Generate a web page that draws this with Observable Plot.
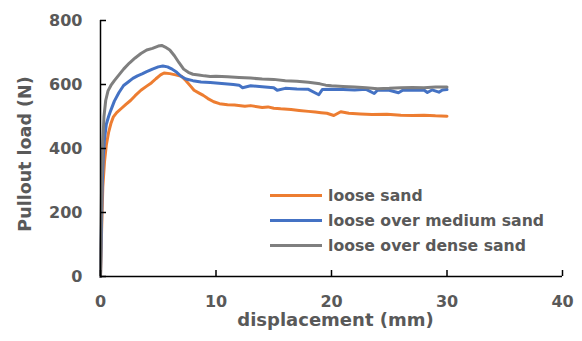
<!DOCTYPE html>
<html>
<head>
<meta charset="utf-8">
<script src="https://cdn.jsdelivr.net/npm/d3@7"></script>
<script src="https://cdn.jsdelivr.net/npm/@observablehq/plot@0.6"></script>
<style>
  html, body { margin: 0; padding: 0; background: #fff; }
  #wrap { position: relative; width: 582px; height: 341px; font-family: "DejaVu Sans", sans-serif; font-weight: bold; }
  #legend { position: absolute; left: 270px; top: 183px; }
  .row { display: flex; align-items: center; height: 25px; }
  .sw { width: 52px; height: 3px; margin-right: 6px; }
  .lab { font-size: 15.7px; color: #595959; white-space: nowrap; }
</style>
</head>
<body>
<div id="wrap"></div>
<script>
// ---- data ----
const seriesNames = ["loose sand", "loose over medium sand", "loose over dense sand"];
const seriesColors = ["#ED7D31", "#4472C4", "#7F7F7F"];

const looseX = [0,0.1,0.2,0.35,0.5,0.7,0.9,1.1,1.4,1.8,2.2,2.6,3.0,3.5,4.0,4.4,4.8,5.2,5.5,6.0,6.5,7.0,7.4,7.8,8.1,8.5,8.9,9.3,9.8,10.3,11,11.6,12.5,13,14,14.5,15,15.6,16.5,17.2,18,18.6,19.1,19.6,20.2,20.8,21.5,22.5,23.5,24.8,26,27,28,29,30];
const looseY = [0,150,280,360,410,450,478,498,512,525,538,550,565,582,595,605,618,630,636,634,630,626,612,595,582,574,566,556,546,540,537,536,532,534,528,530,526,524,522,519,516,514,512,510,503,515,510,508,506,507,504,503,504,502,501];

const mediumX = [0,0.08,0.15,0.25,0.35,0.5,0.7,0.9,1.2,1.6,2.0,2.4,2.8,3.2,3.6,4.0,4.5,5.0,5.4,5.8,6.2,6.6,7.0,7.4,8.0,8.7,9.5,10.5,11.5,12,12.3,13,14,15,15.3,16,17,18,18.9,19.2,20,21,22,23,23.7,24,25,25.8,26.2,27,28,28.3,28.7,29.3,29.6,30];
const mediumY = [0,150,290,380,430,475,500,520,548,575,597,608,619,627,633,640,648,655,658,655,648,638,625,617,612,608,606,603,600,598,590,596,593,590,582,588,586,585,568,584,585,584,583,585,572,583,582,574,583,582,583,575,583,576,583,584];

const denseX = [0,0.05,0.1,0.2,0.3,0.45,0.65,0.9,1.2,1.6,2.0,2.5,3.0,3.5,4.0,4.5,5.0,5.3,5.6,6.0,6.4,6.8,7.2,7.6,8.0,8.5,9.0,9.5,10,11,12,13,14,15,16,17,18,19,19.5,20,21,22,23,24,25,26,27,28,29,30];
const denseY = [0,150,300,420,500,550,580,597,612,630,648,667,683,697,708,713,720,722,717,708,690,668,648,638,632,630,627,625,626,624,622,620,617,616,612,610,607,602,598,596,594,592,590,587,588,590,591,590,592,592];

const xTicks = [0, 10, 20, 30, 40];
const yTicks = [0, 200, 400, 600, 800];
const xTitle = "displacement (mm)";
const yTitle = "Pullout load (N)";

// ---- build table ----
const rows = [];
[[looseX, looseY], [mediumX, mediumY], [denseX, denseY]].forEach(([xs, ys], i) => {
  xs.forEach((x, j) => rows.push({series: seriesNames[i], x, y: ys[j]}));
});

const textColor = "#595959";
const chart = Plot.plot({
  width: 582,
  height: 341,
  marginLeft: 100,
  marginRight: 20,
  marginTop: 20,
  marginBottom: 65,
  style: {fontFamily: "DejaVu Sans", fontWeight: "bold", fontSize: "16px", background: "#fff"},
  x: {domain: [0, 40]},
  y: {domain: [0, 800]},
  color: {domain: seriesNames, range: seriesColors},
  marks: [
    Plot.line(rows, {x: "x", y: "y", z: "series", stroke: "series", strokeWidth: 3, strokeLinejoin: "round", strokeLinecap: "round"}),
    Plot.ruleX([0], {stroke: "#000", strokeWidth: 1.5}),
    Plot.ruleY([0], {stroke: "#000", strokeWidth: 1.5}),
    // inward tick marks (shifted into the frame)
    Plot.axisX({ticks: xTicks, tickSize: 6, dy: -6, stroke: "#000", strokeWidth: 1.5, tickFormat: () => "", label: null}),
    Plot.axisY({ticks: yTicks, tickSize: 6, dx: 6, stroke: "#000", strokeWidth: 1.5, tickFormat: () => "", label: null}),
    // tick labels
    Plot.axisX({ticks: xTicks, tickSize: 0, tickPadding: 19, fill: textColor, label: null, tickFormat: d => String(d)}),
    Plot.axisY({ticks: yTicks, tickSize: 0, tickPadding: 18, fill: textColor, label: null, tickFormat: d => String(d)}),
    Plot.text([xTitle], {text: d => d, frameAnchor: "bottom", textAnchor: "middle", dx: 4, dy: 44, fill: textColor, fontSize: 18, lineAnchor: "middle"}),
    Plot.text([yTitle], {text: d => d, frameAnchor: "left", textAnchor: "middle", rotate: -90, dx: -75, dy: 5.5, fill: textColor, fontSize: 17.5, lineAnchor: "middle"})
  ]
});

const wrap = document.getElementById("wrap");
wrap.appendChild(chart);

// legend overlay
const legend = document.createElement("div");
legend.id = "legend";
seriesNames.forEach((name, i) => {
  const row = document.createElement("div");
  row.className = "row";
  const sw = document.createElement("span");
  sw.className = "sw";
  sw.style.background = seriesColors[i];
  const lab = document.createElement("span");
  lab.className = "lab";
  lab.textContent = name;
  row.appendChild(sw);
  row.appendChild(lab);
  legend.appendChild(row);
});
wrap.appendChild(legend);
</script>
</body>
</html>
